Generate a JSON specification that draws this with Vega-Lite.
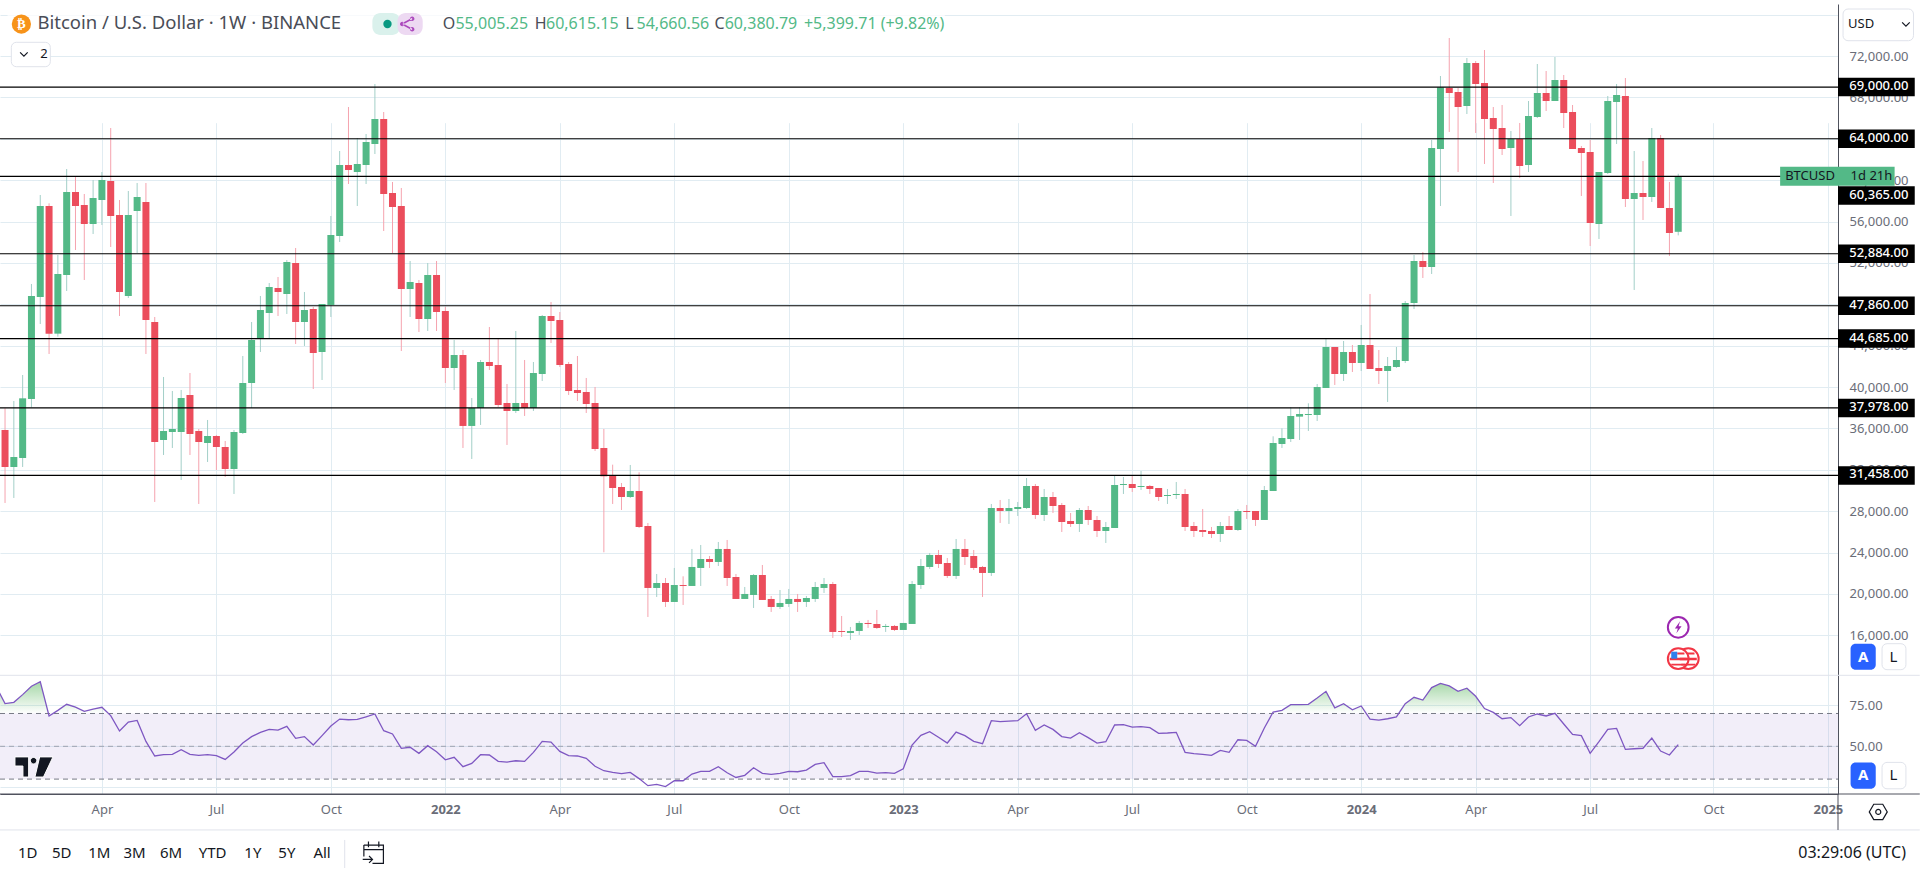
{"$schema":"https://vega.github.io/schema/vega-lite/v6.json","width":1838,"height":790,"padding":{"left":0,"top":4,"right":82,"bottom":79},"autosize":{"type":"none"},"background":"#ffffff",
"title":{"text":"Bitcoin / U.S. Dollar · 1W · BINANCE","anchor":"start","dx":38,"dy":28,"offset":0,"font":"Noto Sans","fontSize":18.5,"fontWeight":"normal","color":"#4a4d57"},
"config":{"view":{"stroke":null},"text":{"font":"Noto Sans"}},
"datasets":{
"candles":[
{"d":"2021-01-11","r":86.5},
{"d":"2021-01-18","o":35849,"h":37943,"l":28793,"c":32273,"r":76.0},
{"d":"2021-01-25","o":32273,"h":38652,"l":29276,"c":33239,"r":76.8},
{"d":"2021-02-01","o":33143,"h":41165,"l":32273,"c":38910,"r":81.5},
{"d":"2021-02-08","o":38846,"h":49962,"l":38040,"c":48802,"r":86.6},
{"d":"2021-02-15","o":48705,"h":58564,"l":46095,"c":57501,"r":89.4},
{"d":"2021-02-22","o":57501,"h":57759,"l":43195,"c":45161,"r":68.5},
{"d":"2021-03-01","o":45161,"h":52765,"l":44871,"c":50928,"r":71.9},
{"d":"2021-03-08","o":50831,"h":61077,"l":49285,"c":58854,"r":75.6},
{"d":"2021-03-15","o":58854,"h":60336,"l":53248,"c":57501,"r":73.9},
{"d":"2021-03-22","o":57598,"h":58661,"l":50348,"c":55761,"r":71.3},
{"d":"2021-03-29","o":55761,"h":60014,"l":54795,"c":58274,"r":72.7},
{"d":"2021-04-05","o":58081,"h":60787,"l":55665,"c":60014,"r":73.8},
{"d":"2021-04-12","o":59918,"h":65040,"l":53538,"c":56534,"r":68.7},
{"d":"2021-04-19","o":56631,"h":58081,"l":46868,"c":49188,"r":59.3},
{"d":"2021-04-26","o":48802,"h":58951,"l":48609,"c":56631,"r":64.8},
{"d":"2021-05-03","o":57018,"h":59725,"l":52958,"c":58371,"r":65.8},
{"d":"2021-05-10","o":57888,"h":59725,"l":43195,"c":46482,"r":53.0},
{"d":"2021-05-17","o":46288,"h":46771,"l":28889,"c":34689,"r":44.1},
{"d":"2021-05-24","o":34882,"h":40973,"l":33432,"c":35753,"r":44.9},
{"d":"2021-05-31","o":35656,"h":39619,"l":34109,"c":35946,"r":45.1},
{"d":"2021-06-07","o":35656,"h":39716,"l":31016,"c":38942,"r":47.9},
{"d":"2021-06-14","o":39232,"h":41358,"l":33432,"c":35463,"r":45.1},
{"d":"2021-06-21","o":35753,"h":35946,"l":28696,"c":34689,"r":44.5},
{"d":"2021-06-28","o":34592,"h":36816,"l":32756,"c":35270,"r":44.9},
{"d":"2021-07-05","o":35270,"h":35366,"l":31983,"c":34206,"r":44.3},
{"d":"2021-07-12","o":34206,"h":34786,"l":31306,"c":32079,"r":42.0},
{"d":"2021-07-19","o":32079,"h":35849,"l":29663,"c":35656,"r":46.5},
{"d":"2021-07-26","o":35559,"h":43002,"l":35462,"c":40392,"r":52.0},
{"d":"2021-08-02","o":40392,"h":46288,"l":37975,"c":44549,"r":55.9},
{"d":"2021-08-09","o":44741,"h":48802,"l":43389,"c":47448,"r":58.5},
{"d":"2021-08-16","o":47158,"h":50058,"l":44741,"c":49672,"r":60.3},
{"d":"2021-08-23","o":49575,"h":50638,"l":46868,"c":49188,"r":59.9},
{"d":"2021-08-30","o":48995,"h":52281,"l":47062,"c":52088,"r":62.2},
{"d":"2021-09-06","o":51991,"h":53441,"l":44162,"c":46288,"r":54.9},
{"d":"2021-09-13","o":46288,"h":49188,"l":43969,"c":47448,"r":55.9},
{"d":"2021-09-20","o":47545,"h":47738,"l":39812,"c":43292,"r":50.8},
{"d":"2021-09-27","o":43389,"h":48028,"l":40682,"c":48028,"r":56.5},
{"d":"2021-10-04","o":47932,"h":56534,"l":46771,"c":54698,"r":62.4},
{"d":"2021-10-11","o":54601,"h":62817,"l":54021,"c":61464,"r":66.6},
{"d":"2021-10-18","o":61464,"h":67070,"l":59628,"c":60981,"r":66.2},
{"d":"2021-10-25","o":60787,"h":64074,"l":57501,"c":61561,"r":66.4},
{"d":"2021-11-01","o":61464,"h":64461,"l":59628,"c":63687,"r":68.0},
{"d":"2021-11-08","o":63494,"h":69294,"l":62527,"c":65910,"r":69.7},
{"d":"2021-11-15","o":65910,"h":66587,"l":55085,"c":58661,"r":59.5},
{"d":"2021-11-22","o":58758,"h":59821,"l":52958,"c":57404,"r":57.5},
{"d":"2021-11-29","o":57501,"h":59241,"l":43485,"c":49478,"r":48.8},
{"d":"2021-12-06","o":49478,"h":52184,"l":46771,"c":50155,"r":49.4},
{"d":"2021-12-13","o":50058,"h":50348,"l":45322,"c":46579,"r":45.7},
{"d":"2021-12-20","o":46579,"h":51991,"l":45418,"c":50831,"r":50.4},
{"d":"2021-12-27","o":50831,"h":52184,"l":45418,"c":47255,"r":46.7},
{"d":"2022-01-03","o":47352,"h":47738,"l":40392,"c":41842,"r":41.8},
{"d":"2022-01-10","o":41842,"h":44549,"l":39716,"c":43099,"r":43.3},
{"d":"2022-01-17","o":43099,"h":43582,"l":34109,"c":36238,"r":37.6},
{"d":"2022-01-24","o":36238,"h":38942,"l":33046,"c":37975,"r":39.6},
{"d":"2022-01-31","o":37975,"h":42615,"l":36334,"c":42422,"r":44.9},
{"d":"2022-02-07","o":42422,"h":45805,"l":41649,"c":42035,"r":44.7},
{"d":"2022-02-14","o":42132,"h":44645,"l":38073,"c":38266,"r":40.8},
{"d":"2022-02-21","o":38459,"h":40295,"l":34399,"c":37686,"r":40.4},
{"d":"2022-02-28","o":37686,"h":45418,"l":37493,"c":38459,"r":41.2},
{"d":"2022-03-07","o":38459,"h":42615,"l":37203,"c":37975,"r":40.8},
{"d":"2022-03-14","o":37975,"h":42422,"l":37686,"c":41358,"r":46.3},
{"d":"2022-03-21","o":41262,"h":46965,"l":40585,"c":46868,"r":53.0},
{"d":"2022-03-28","o":46868,"h":48222,"l":44259,"c":46385,"r":52.6},
{"d":"2022-04-04","o":46482,"h":47255,"l":41939,"c":42132,"r":46.9},
{"d":"2022-04-11","o":42229,"h":42422,"l":39232,"c":39619,"r":44.3},
{"d":"2022-04-18","o":39716,"h":43002,"l":38652,"c":39426,"r":44.1},
{"d":"2022-04-25","o":39522,"h":40876,"l":37493,"c":38362,"r":42.7},
{"d":"2022-05-02","o":38459,"h":40006,"l":33819,"c":34012,"r":37.8},
{"d":"2022-05-09","o":34109,"h":35946,"l":24024,"c":31370,"r":35.1},
{"d":"2022-05-16","o":31435,"h":32498,"l":28696,"c":30243,"r":34.1},
{"d":"2022-05-23","o":30339,"h":30726,"l":28116,"c":29373,"r":33.3},
{"d":"2022-05-30","o":29373,"h":32466,"l":29276,"c":29953,"r":34.1},
{"d":"2022-06-06","o":29953,"h":31757,"l":26376,"c":26473,"r":30.3},
{"d":"2022-06-13","o":26570,"h":26860,"l":17773,"c":20577,"r":26.0},
{"d":"2022-06-20","o":20577,"h":21930,"l":19707,"c":21060,"r":26.8},
{"d":"2022-06-27","o":21060,"h":21543,"l":18740,"c":19224,"r":25.4},
{"d":"2022-07-04","o":19224,"h":22510,"l":19224,"c":20866,"r":29.0},
{"d":"2022-07-11","o":20866,"h":21704,"l":18934,"c":20770,"r":29.0},
{"d":"2022-07-18","o":20770,"h":24347,"l":20770,"c":22607,"r":33.1},
{"d":"2022-07-25","o":22510,"h":24733,"l":20770,"c":23380,"r":34.7},
{"d":"2022-08-01","o":23380,"h":23670,"l":22510,"c":23090,"r":34.7},
{"d":"2022-08-08","o":23090,"h":25023,"l":22703,"c":24347,"r":37.6},
{"d":"2022-08-15","o":24347,"h":25216,"l":20770,"c":21543,"r":33.9},
{"d":"2022-08-22","o":21640,"h":21930,"l":19514,"c":19514,"r":31.0},
{"d":"2022-08-29","o":19514,"h":20673,"l":19514,"c":19997,"r":32.3},
{"d":"2022-09-05","o":19900,"h":21930,"l":18643,"c":21833,"r":36.9},
{"d":"2022-09-12","o":21833,"h":22800,"l":19417,"c":19417,"r":33.5},
{"d":"2022-09-19","o":19514,"h":19803,"l":18257,"c":18740,"r":32.9},
{"d":"2022-09-26","o":18740,"h":20383,"l":18547,"c":19127,"r":33.5},
{"d":"2022-10-03","o":19030,"h":20480,"l":18740,"c":19514,"r":34.7},
{"d":"2022-10-10","o":19514,"h":19997,"l":18257,"c":19224,"r":34.5},
{"d":"2022-10-17","o":19224,"h":19803,"l":18740,"c":19610,"r":35.5},
{"d":"2022-10-24","o":19514,"h":21157,"l":19224,"c":20673,"r":39.0},
{"d":"2022-10-31","o":20577,"h":21543,"l":20093,"c":20963,"r":40.0},
{"d":"2022-11-07","o":20963,"h":21157,"l":15744,"c":16324,"r":31.5},
{"d":"2022-11-14","o":16420,"h":17870,"l":15840,"c":16324,"r":31.5},
{"d":"2022-11-21","o":16227,"h":16807,"l":15550,"c":16420,"r":32.1},
{"d":"2022-11-28","o":16420,"h":17387,"l":16034,"c":17194,"r":34.7},
{"d":"2022-12-05","o":17194,"h":17484,"l":16710,"c":17097,"r":34.7},
{"d":"2022-12-12","o":17097,"h":18450,"l":16614,"c":16710,"r":33.7},
{"d":"2022-12-19","o":16807,"h":17097,"l":16324,"c":16904,"r":33.9},
{"d":"2022-12-26","o":16904,"h":17000,"l":16420,"c":16517,"r":33.5},
{"d":"2023-01-02","o":16517,"h":17194,"l":16517,"c":17194,"r":36.3},
{"d":"2023-01-09","o":17097,"h":21253,"l":17097,"c":20963,"r":50.8},
{"d":"2023-01-16","o":20866,"h":23380,"l":20480,"c":22703,"r":56.7},
{"d":"2023-01-23","o":22607,"h":23960,"l":22413,"c":23767,"r":58.9},
{"d":"2023-01-30","o":23767,"h":24250,"l":22510,"c":22897,"r":55.5},
{"d":"2023-02-06","o":22993,"h":23476,"l":21543,"c":21737,"r":52.0},
{"d":"2023-02-13","o":21737,"h":25313,"l":21447,"c":24347,"r":58.7},
{"d":"2023-02-20","o":24347,"h":25313,"l":22800,"c":23573,"r":56.5},
{"d":"2023-02-27","o":23670,"h":24250,"l":22317,"c":22510,"r":53.0},
{"d":"2023-03-06","o":22607,"h":22703,"l":19707,"c":22027,"r":51.6},
{"d":"2023-03-13","o":22027,"h":28696,"l":21737,"c":28309,"r":65.6},
{"d":"2023-03-20","o":28309,"h":29083,"l":26860,"c":28020,"r":65.0},
{"d":"2023-03-27","o":28020,"h":29179,"l":26763,"c":28309,"r":65.4},
{"d":"2023-04-03","o":28213,"h":28889,"l":27536,"c":28406,"r":65.6},
{"d":"2023-04-10","o":28309,"h":31209,"l":28213,"c":30436,"r":69.9},
{"d":"2023-04-17","o":30436,"h":30629,"l":27246,"c":27633,"r":59.7},
{"d":"2023-04-24","o":27633,"h":30146,"l":27053,"c":29373,"r":63.0},
{"d":"2023-05-01","o":29373,"h":29856,"l":27826,"c":28503,"r":60.3},
{"d":"2023-05-08","o":28600,"h":28793,"l":25990,"c":26956,"r":55.9},
{"d":"2023-05-15","o":27053,"h":27826,"l":26473,"c":26763,"r":55.0},
{"d":"2023-05-22","o":26763,"h":28309,"l":25990,"c":28116,"r":58.3},
{"d":"2023-05-29","o":28116,"h":28503,"l":26666,"c":27150,"r":55.3},
{"d":"2023-06-05","o":27150,"h":27536,"l":25506,"c":26086,"r":52.0},
{"d":"2023-06-12","o":26086,"h":26956,"l":24926,"c":26473,"r":52.8},
{"d":"2023-06-19","o":26376,"h":31403,"l":26376,"c":30533,"r":63.0},
{"d":"2023-06-26","o":30533,"h":31306,"l":29663,"c":30629,"r":63.2},
{"d":"2023-07-03","o":30629,"h":31403,"l":29856,"c":30243,"r":61.7},
{"d":"2023-07-10","o":30339,"h":31886,"l":30049,"c":30436,"r":62.0},
{"d":"2023-07-17","o":30436,"h":30533,"l":29663,"c":30146,"r":61.4},
{"d":"2023-07-24","o":30243,"h":30243,"l":28986,"c":29373,"r":57.9},
{"d":"2023-07-31","o":29469,"h":30146,"l":28696,"c":29566,"r":58.1},
{"d":"2023-08-07","o":29566,"h":30823,"l":29179,"c":29663,"r":58.5},
{"d":"2023-08-14","o":29663,"h":30146,"l":26086,"c":26473,"r":46.3},
{"d":"2023-08-21","o":26570,"h":26956,"l":25506,"c":26086,"r":45.5},
{"d":"2023-08-28","o":26183,"h":28213,"l":25506,"c":25990,"r":45.1},
{"d":"2023-09-04","o":26086,"h":26473,"l":25410,"c":25796,"r":44.5},
{"d":"2023-09-11","o":25796,"h":26956,"l":25023,"c":26570,"r":47.5},
{"d":"2023-09-18","o":26570,"h":27536,"l":26183,"c":26183,"r":46.3},
{"d":"2023-09-25","o":26183,"h":28213,"l":26086,"c":28020,"r":54.0},
{"d":"2023-10-02","o":28020,"h":28600,"l":27246,"c":27923,"r":53.6},
{"d":"2023-10-09","o":28020,"h":28020,"l":26570,"c":27150,"r":50.0},
{"d":"2023-10-16","o":27150,"h":30436,"l":27150,"c":30049,"r":61.2},
{"d":"2023-10-23","o":29953,"h":35237,"l":29953,"c":34592,"r":70.9},
{"d":"2023-10-30","o":34496,"h":36010,"l":34109,"c":35076,"r":71.9},
{"d":"2023-11-06","o":34979,"h":38040,"l":34689,"c":37203,"r":75.4},
{"d":"2023-11-13","o":37138,"h":38040,"l":34883,"c":37396,"r":75.4},
{"d":"2023-11-20","o":37299,"h":38427,"l":35753,"c":37396,"r":75.6},
{"d":"2023-11-27","o":37299,"h":40295,"l":36720,"c":40006,"r":79.4},
{"d":"2023-12-04","o":39909,"h":44645,"l":39909,"c":43872,"r":83.5},
{"d":"2023-12-11","o":43872,"h":43872,"l":40199,"c":41262,"r":73.4},
{"d":"2023-12-18","o":41262,"h":44452,"l":40585,"c":43389,"r":76.0},
{"d":"2023-12-25","o":43389,"h":44065,"l":41455,"c":42326,"r":72.3},
{"d":"2024-01-01","o":42326,"h":45999,"l":41552,"c":44065,"r":74.6},
{"d":"2024-01-08","o":44065,"h":48995,"l":41745,"c":41745,"r":66.6},
{"d":"2024-01-15","o":41842,"h":43582,"l":40295,"c":41552,"r":66.0},
{"d":"2024-01-22","o":41552,"h":42905,"l":38555,"c":42035,"r":66.8},
{"d":"2024-01-29","o":41939,"h":43872,"l":41842,"c":42615,"r":67.9},
{"d":"2024-02-05","o":42519,"h":48318,"l":42326,"c":48125,"r":76.0},
{"d":"2024-02-12","o":48125,"h":52765,"l":47545,"c":52184,"r":79.9},
{"d":"2024-02-19","o":52184,"h":53055,"l":50541,"c":51605,"r":78.2},
{"d":"2024-02-26","o":51605,"h":63880,"l":50928,"c":63107,"r":85.8},
{"d":"2024-03-04","o":63011,"h":70067,"l":57501,"c":68971,"r":88.4},
{"d":"2024-03-11","o":68907,"h":73740,"l":64654,"c":68424,"r":86.8},
{"d":"2024-03-18","o":68520,"h":68907,"l":60787,"c":67070,"r":83.5},
{"d":"2024-03-25","o":67167,"h":71807,"l":66394,"c":71323,"r":85.4},
{"d":"2024-04-01","o":71323,"h":71517,"l":64557,"c":69294,"r":80.5},
{"d":"2024-04-08","o":69390,"h":72580,"l":61561,"c":65910,"r":73.0},
{"d":"2024-04-15","o":66007,"h":67070,"l":59725,"c":64944,"r":70.7},
{"d":"2024-04-22","o":65040,"h":67264,"l":62431,"c":63011,"r":66.8},
{"d":"2024-04-29","o":63107,"h":64751,"l":56534,"c":63977,"r":67.5},
{"d":"2024-05-06","o":63977,"h":65524,"l":60207,"c":61367,"r":62.6},
{"d":"2024-05-13","o":61464,"h":67650,"l":60787,"c":66201,"r":67.9},
{"d":"2024-05-20","o":66104,"h":71227,"l":66007,"c":68424,"r":69.7},
{"d":"2024-05-27","o":68424,"h":70550,"l":66684,"c":67650,"r":68.5},
{"d":"2024-06-03","o":67650,"h":71903,"l":67650,"c":69680,"r":70.1},
{"d":"2024-06-10","o":69680,"h":70164,"l":65040,"c":66491,"r":63.6},
{"d":"2024-06-17","o":66587,"h":67264,"l":63011,"c":63011,"r":57.3},
{"d":"2024-06-24","o":63107,"h":63301,"l":58468,"c":62624,"r":56.5},
{"d":"2024-07-01","o":62720,"h":63880,"l":53634,"c":55858,"r":45.7},
{"d":"2024-07-08","o":55761,"h":60787,"l":54311,"c":60787,"r":52.8},
{"d":"2024-07-15","o":60691,"h":68134,"l":60594,"c":67650,"r":60.3},
{"d":"2024-07-22","o":67554,"h":69294,"l":63494,"c":68230,"r":60.9},
{"d":"2024-07-29","o":68134,"h":69873,"l":57404,"c":58178,"r":48.1},
{"d":"2024-08-05","o":58178,"h":62817,"l":49382,"c":58758,"r":48.5},
{"d":"2024-08-12","o":58758,"h":61851,"l":56148,"c":58371,"r":48.8},
{"d":"2024-08-19","o":58371,"h":65040,"l":57888,"c":64074,"r":55.0},
{"d":"2024-08-26","o":64074,"h":64364,"l":57308,"c":57308,"r":47.1},
{"d":"2024-09-02","o":57308,"h":59821,"l":52668,"c":54891,"r":44.7},
{"d":"2024-09-09","o":55005.25,"h":60615.15,"l":54660.56,"c":60380.79,"r":51.0}
],
"over":[
{"d":"2021-01-11","ob":86.5},{"d":"2021-01-18","ob":76.0},{"d":"2021-01-25","ob":76.8},{"d":"2021-02-01","ob":81.5},{"d":"2021-02-08","ob":86.6},{"d":"2021-02-15","ob":89.4},{"d":"2021-02-22","ob":70},{"d":"2021-03-01","ob":71.9},{"d":"2021-03-08","ob":75.6},{"d":"2021-03-15","ob":73.9},{"d":"2021-03-22","ob":71.3},{"d":"2021-03-29","ob":72.7},{"d":"2021-04-05","ob":73.8},{"d":"2021-04-12","ob":70},
{"d":"2023-10-16","ob":70},{"d":"2023-10-23","ob":70.9},{"d":"2023-10-30","ob":71.9},{"d":"2023-11-06","ob":75.4},{"d":"2023-11-13","ob":75.4},{"d":"2023-11-20","ob":75.6},{"d":"2023-11-27","ob":79.4},{"d":"2023-12-04","ob":83.5},{"d":"2023-12-11","ob":73.4},{"d":"2023-12-18","ob":76.0},{"d":"2023-12-25","ob":72.3},{"d":"2024-01-01","ob":74.6},{"d":"2024-01-08","ob":70},{"d":"2024-01-15","ob":70},{"d":"2024-01-22","ob":70},{"d":"2024-01-29","ob":70},{"d":"2024-02-05","ob":76.0},{"d":"2024-02-12","ob":79.9},{"d":"2024-02-19","ob":78.2},{"d":"2024-02-26","ob":85.8},{"d":"2024-03-04","ob":88.4},{"d":"2024-03-11","ob":86.8},{"d":"2024-03-18","ob":83.5},{"d":"2024-03-25","ob":85.4},{"d":"2024-04-01","ob":80.5},{"d":"2024-04-08","ob":73.0},{"d":"2024-04-15","ob":70.7},{"d":"2024-04-22","ob":70}
],
"levels":[{"d":"2021-01-14","d2":"2025-01-14","p":69000},{"d":"2021-01-14","d2":"2025-01-14","p":64000},{"d":"2021-01-14","d2":"2025-01-14","p":60365},{"d":"2021-01-14","d2":"2025-01-14","p":52884},{"d":"2021-01-14","d2":"2025-01-14","p":47860},{"d":"2021-01-14","d2":"2025-01-14","p":44685},{"d":"2021-01-14","d2":"2025-01-14","p":37978},{"d":"2021-01-14","d2":"2025-01-14","p":31458}],
"tags":[{"d":"2025-01-14","d2":"2025-03-16","p":69000},{"d":"2025-01-14","d2":"2025-03-16","p":64000},{"d":"2025-01-14","d2":"2025-03-16","p":58515},{"d":"2025-01-14","d2":"2025-03-16","p":52884},{"d":"2025-01-14","d2":"2025-03-16","p":47860},{"d":"2025-01-14","d2":"2025-03-16","p":44685},{"d":"2025-01-14","d2":"2025-03-16","p":37978},{"d":"2025-01-14","d2":"2025-03-16","p":31458}],
"tagText":[{"d":"2025-01-23","p":69000,"t":"69,000.00"},{"d":"2025-01-23","p":64000,"t":"64,000.00"},{"d":"2025-01-23","p":58515,"t":"60,365.00"},{"d":"2025-01-23","p":52884,"t":"52,884.00"},{"d":"2025-01-23","p":47860,"t":"47,860.00"},{"d":"2025-01-23","p":44685,"t":"44,685.00"},{"d":"2025-01-23","p":37978,"t":"37,978.00"},{"d":"2025-01-23","p":31458,"t":"31,458.00"}],
"counter":[{"d":"2024-11-29","d2":"2025-02-28","p":60365}],
"counterText":[{"d":"2024-12-03","p":60365,"t":"BTCUSD"},{"d":"2025-01-24","p":60365,"t":"1d 21h"}],
"headBox":[{"d":"2021-01-20","d2":"2023-02-04","p":76157,"p2":74030}],
"pillTeal":[{"d":"2021-11-06","d2":"2021-11-28","p":76157,"p2":74030}],
"pillPurple":[{"d":"2021-11-26","d2":"2021-12-16","p":76157,"p2":74030}],
"whiteBoxes":[{"d":"2025-01-18","d2":"2025-03-15","p":76543,"p2":73479},{"d":"2021-01-23","d2":"2021-02-23","p":73324,"p2":70966},{"d":"2025-02-18","d2":"2025-03-09","p":15190,"p2":12677}],
"blueBoxes":[{"d":"2025-01-24","d2":"2025-02-13","p":15190,"p2":12677}],
"letters":[{"d":"2022-01-01","p":75093,"t":"O"},{"d":"2022-03-15","p":75093,"t":"H"},{"d":"2022-05-26","p":75093,"t":"L"},{"d":"2022-08-05","p":75093,"t":"C"}],
"values":[{"d":"2022-01-11","p":75093,"t":"55,005.25"},{"d":"2022-03-24","p":75093,"t":"60,615.15"},{"d":"2022-06-04","p":75093,"t":"54,660.56"},{"d":"2022-08-13","p":75093,"t":"60,380.79"},{"d":"2022-10-15","p":75093,"t":"+5,399.71"},{"d":"2022-12-15","p":75093,"t":"(+9.82%)"}],
"darkText":[{"d":"2025-01-22","p":75093,"t":"USD"},{"d":"2021-02-15","p":72193,"t":"2"}],
"btc":[{"d":"2021-01-31","p":75093,"t":"₿"}],
"chev":[{"d":"2025-03-09","p":75093},{"d":"2021-02-02","p":72193}],
"tealDot":[{"d":"2021-11-18","p":75093}],
"share":[{"d":"2021-12-04","p":75093}],
"aLabel":[{"d":"2025-02-03","p":13933,"t":"A"}],
"lLabel":[{"d":"2025-02-27","p":13933,"t":"L"}],
"bolt":[{"d":"2024-09-09","p":16775}],
"coins":[{"d":"2024-09-17","p":13740},{"d":"2024-09-09","p":13740}],
"coinFront":[{"d":"2024-09-09","p":13740}],
"band":[{"d":"2021-01-14","d2":"2025-01-14","r":70,"r2":30}],
"dash":[{"d":"2021-01-14","d2":"2025-01-14","r":70},{"d":"2021-01-14","d2":"2025-01-14","r":30}],
"mid":[{"d":"2021-01-14","d2":"2025-01-14","r":50}],
"sep":[{"d":"2021-01-14","d2":"2025-03-20","r":93.29},{"d":"2021-01-14","d2":"2025-03-20","r":-1}],
"axisLine":[{"d":"2021-01-14","d2":"2025-03-20","r":20.92}],
"axisDown":[{"d":"2025-01-14","r":20.92,"r2":-1}],
"toolSep":[{"d":"2021-10-15","r":-7.1,"r2":-24.2}],
"toolbar":[{"d":"2021-02-05","r":-15.1,"t":"1D"},{"d":"2021-03-04","r":-15.1,"t":"5D"},{"d":"2021-04-03","r":-15.1,"t":"1M"},{"d":"2021-05-01","r":-15.1,"t":"3M"},{"d":"2021-05-30","r":-15.1,"t":"6M"},{"d":"2021-07-02","r":-15.1,"t":"YTD"},{"d":"2021-08-03","r":-15.1,"t":"1Y"},{"d":"2021-08-30","r":-15.1,"t":"5Y"},{"d":"2021-09-27","r":-15.1,"t":"All"}],
"clock":[{"d":"2025-03-09","r":-15.1,"t":"03:29:06 (UTC)"}],
"calendar":[{"d":"2021-11-07","r":-15.1}],
"gear":[{"d":"2025-02-15","r":10}],
"logo":[{"d":"2021-02-10","r":37.4}],
"whiteR":[{"d":"2025-02-18","d2":"2025-03-09","r":40.2,"r2":24.1}],
"blueR":[{"d":"2025-01-24","d2":"2025-02-13","r":40.2,"r2":24.1}],
"aR":[{"d":"2025-02-03","r":32.2,"t":"A"}],
"lR":[{"d":"2025-02-27","r":32.2,"t":"L"}]
},
"encoding":{"x":{"field":"d","type":"temporal","title":null,"scale":{"type":"utc","nice":false,"padding":0,"domain":[{"year":2021,"month":1,"date":14,"utc":true},{"year":2025,"month":1,"date":14,"utc":true}]},
"axis":{"orient":"bottom","grid":true,"gridColor":"#e1ecf2","gridWidth":1,"ticks":false,"domain":true,"domainColor":"#50535e","labelFont":"Noto Sans","labelFontSize":13,"labelColor":"#6a6d78","labelPadding":9,"labelOverlap":false,"labelFlush":false,"labelBound":false,"labelExpr":"utcmonth(datum.value)==0?utcFormat(datum.value,'%Y'):utcFormat(datum.value,'%b')","labelFontWeight":{"condition":{"test":"utcmonth(datum.value)==0","value":"bold"},"value":"normal"},
"values":[{"year":2021,"month":4,"date":5,"utc":true},{"year":2021,"month":7,"date":5,"utc":true},{"year":2021,"month":10,"date":4,"utc":true},{"year":2022,"month":1,"date":3,"utc":true},{"year":2022,"month":4,"date":4,"utc":true},{"year":2022,"month":7,"date":4,"utc":true},{"year":2022,"month":10,"date":3,"utc":true},{"year":2023,"month":1,"date":2,"utc":true},{"year":2023,"month":4,"date":3,"utc":true},{"year":2023,"month":7,"date":3,"utc":true},{"year":2023,"month":10,"date":2,"utc":true},{"year":2024,"month":1,"date":1,"utc":true},{"year":2024,"month":4,"date":1,"utc":true},{"year":2024,"month":7,"date":1,"utc":true},{"year":2024,"month":10,"date":7,"utc":true},{"year":2025,"month":1,"date":6,"utc":true}]}}},
"resolve":{"scale":{"y":"independent"},"axis":{"y":"independent"}},
"layer":[
{"layer":[
{"data":{"name":"candles"},"mark":{"type":"rule","strokeWidth":1},"encoding":{"y":{"field":"l","type":"quantitative","title":null,"scale":{"domain":[12135,77027],"range":[671.3,0],"nice":false,"zero":false},"axis":{"orient":"right","grid":true,"gridColor":"#e1ecf2","ticks":false,"domain":true,"domainColor":"#50535e","labelFont":"Noto Sans","labelFontSize":13,"labelColor":"#6a6d78","labelPadding":11,"labelOverlap":false,"labelFlush":false,"labelBound":false,"format":",.2f","values":[16000,20000,24000,28000,32000,36000,40000,44000,48000,52000,56000,60000,64000,68000,72000,76000]}},"y2":{"field":"h"},"color":{"condition":{"test":"datum.c>=datum.o","value":"#a3cfc8"},"value":"#f5a3ae"}}},
{"data":{"name":"candles"},"mark":{"type":"bar","width":7},"encoding":{"y":{"field":"o","type":"quantitative","title":null,"scale":{"domain":[12135,77027],"range":[671.3,0],"nice":false,"zero":false}},"y2":{"field":"c"},"color":{"condition":{"test":"datum.c>=datum.o","value":"#53b987"},"value":"#eb4d5c"}}},
{"data":{"name":"levels"},"mark":{"type":"rule","color":"#000000","strokeWidth":1.2},"encoding":{"x2":{"field":"d2"},"y":{"field":"p","type":"quantitative","title":null,"scale":{"domain":[12135,77027],"range":[671.3,0],"nice":false,"zero":false}}}},
{"data":{"name":"counter"},"mark":{"type":"rule","color":"#53b987","strokeWidth":19},"encoding":{"x2":{"field":"d2"},"y":{"field":"p","type":"quantitative","title":null,"scale":{"domain":[12135,77027],"range":[671.3,0],"nice":false,"zero":false}}}},
{"data":{"name":"counterText"},"mark":{"type":"text","align":"left","baseline":"middle","color":"#131722","fontSize":13},"encoding":{"text":{"field":"t"},"y":{"field":"p","type":"quantitative","title":null,"scale":{"domain":[12135,77027],"range":[671.3,0],"nice":false,"zero":false}}}},
{"data":{"name":"tags"},"mark":{"type":"rule","color":"#000000","strokeWidth":18.5},"encoding":{"x2":{"field":"d2"},"y":{"field":"p","type":"quantitative","title":null,"scale":{"domain":[12135,77027],"range":[671.3,0],"nice":false,"zero":false}}}},
{"data":{"name":"tagText"},"mark":{"type":"text","align":"left","baseline":"middle","color":"#ffffff","fontSize":13,"fontWeight":500,"dy":-1},"encoding":{"text":{"field":"t"},"y":{"field":"p","type":"quantitative","title":null,"scale":{"domain":[12135,77027],"range":[671.3,0],"nice":false,"zero":false}}}},
{"data":{"name":"headBox"},"mark":{"type":"rect","color":"#ffffff","opacity":0.75},"encoding":{"x2":{"field":"d2"},"y":{"field":"p","type":"quantitative","title":null,"scale":{"domain":[12135,77027],"range":[671.3,0],"nice":false,"zero":false}},"y2":{"field":"p2"}}},
{"data":{"name":"whiteBoxes"},"mark":{"type":"rect","fill":"#ffffff","stroke":"#e0e3eb","strokeWidth":1,"cornerRadius":5},"encoding":{"x2":{"field":"d2"},"y":{"field":"p","type":"quantitative","title":null,"scale":{"domain":[12135,77027],"range":[671.3,0],"nice":false,"zero":false}},"y2":{"field":"p2"}}},
{"data":{"name":"blueBoxes"},"mark":{"type":"rect","color":"#2962ff","cornerRadius":5},"encoding":{"x2":{"field":"d2"},"y":{"field":"p","type":"quantitative","title":null,"scale":{"domain":[12135,77027],"range":[671.3,0],"nice":false,"zero":false}},"y2":{"field":"p2"}}},
{"data":{"name":"pillTeal"},"mark":{"type":"rect","color":"#daf1ec","cornerRadius":8},"encoding":{"x2":{"field":"d2"},"y":{"field":"p","type":"quantitative","title":null,"scale":{"domain":[12135,77027],"range":[671.3,0],"nice":false,"zero":false}},"y2":{"field":"p2"}}},
{"data":{"name":"pillPurple"},"mark":{"type":"rect","color":"#edd9f2","cornerRadius":8},"encoding":{"x2":{"field":"d2"},"y":{"field":"p","type":"quantitative","title":null,"scale":{"domain":[12135,77027],"range":[671.3,0],"nice":false,"zero":false}},"y2":{"field":"p2"}}},
{"data":{"name":"tealDot"},"mark":{"type":"point","shape":"circle","filled":true,"opacity":1,"color":"#089981","size":70},"encoding":{"y":{"field":"p","type":"quantitative","title":null,"scale":{"domain":[12135,77027],"range":[671.3,0],"nice":false,"zero":false}}}},
{"data":{"name":"share"},"mark":{"type":"point","filled":true,"opacity":1,"color":"#ab47bc","size":230,"shape":"M0.3,-0.7a0.3,0.3 0 1,0 0.6,0a0.3,0.3 0 1,0 -0.6,0ZM0.3,0.7a0.3,0.3 0 1,0 0.6,0a0.3,0.3 0 1,0 -0.6,0ZM-1,0a0.3,0.3 0 1,0 0.6,0a0.3,0.3 0 1,0 -0.6,0ZM-0.7,-0.12L0.6,-0.82L0.6,-0.58L-0.7,0.12ZM-0.7,-0.12L0.6,0.58L0.6,0.82L-0.7,0.12Z"},"encoding":{"y":{"field":"p","type":"quantitative","title":null,"scale":{"domain":[12135,77027],"range":[671.3,0],"nice":false,"zero":false}}}},
{"data":{"name":"btc"},"mark":{"type":"point","shape":"circle","filled":true,"opacity":1,"color":"#f7931a","size":370},"encoding":{"y":{"field":"p","type":"quantitative","title":null,"scale":{"domain":[12135,77027],"range":[671.3,0],"nice":false,"zero":false}}}},
{"data":{"name":"btc"},"mark":{"type":"text","align":"center","baseline":"middle","color":"#ffffff","font":"DejaVu Sans","fontWeight":"bold","fontSize":13},"encoding":{"text":{"field":"t"},"y":{"field":"p","type":"quantitative","title":null,"scale":{"domain":[12135,77027],"range":[671.3,0],"nice":false,"zero":false}}}},
{"data":{"name":"letters"},"mark":{"type":"text","align":"left","baseline":"middle","color":"#4a4d57","fontSize":16},"encoding":{"text":{"field":"t"},"y":{"field":"p","type":"quantitative","title":null,"scale":{"domain":[12135,77027],"range":[671.3,0],"nice":false,"zero":false}}}},
{"data":{"name":"values"},"mark":{"type":"text","align":"left","baseline":"middle","color":"#53b987","fontSize":16},"encoding":{"text":{"field":"t"},"y":{"field":"p","type":"quantitative","title":null,"scale":{"domain":[12135,77027],"range":[671.3,0],"nice":false,"zero":false}}}},
{"data":{"name":"darkText"},"mark":{"type":"text","align":"left","baseline":"middle","color":"#131722","fontSize":13},"encoding":{"text":{"field":"t"},"y":{"field":"p","type":"quantitative","title":null,"scale":{"domain":[12135,77027],"range":[671.3,0],"nice":false,"zero":false}}}},
{"data":{"name":"chev"},"mark":{"type":"point","filled":false,"opacity":1,"color":"#131722","strokeWidth":1.2,"size":90,"shape":"M-0.8,-0.35L0,0.45L0.8,-0.35"},"encoding":{"y":{"field":"p","type":"quantitative","title":null,"scale":{"domain":[12135,77027],"range":[671.3,0],"nice":false,"zero":false}}}},
{"data":{"name":"aLabel"},"mark":{"type":"text","align":"center","baseline":"middle","color":"#ffffff","fontSize":15,"fontWeight":"bold"},"encoding":{"text":{"field":"t"},"y":{"field":"p","type":"quantitative","title":null,"scale":{"domain":[12135,77027],"range":[671.3,0],"nice":false,"zero":false}}}},
{"data":{"name":"lLabel"},"mark":{"type":"text","align":"center","baseline":"middle","color":"#131722","fontSize":15},"encoding":{"text":{"field":"t"},"y":{"field":"p","type":"quantitative","title":null,"scale":{"domain":[12135,77027],"range":[671.3,0],"nice":false,"zero":false}}}},
{"data":{"name":"bolt"},"mark":{"type":"point","shape":"circle","filled":true,"opacity":1,"fill":"#ffffff","stroke":"#9c27b0","strokeWidth":2,"size":430},"encoding":{"y":{"field":"p","type":"quantitative","title":null,"scale":{"domain":[12135,77027],"range":[671.3,0],"nice":false,"zero":false}}}},
{"data":{"name":"bolt"},"mark":{"type":"point","filled":true,"opacity":1,"color":"#9c27b0","size":220,"shape":"M0.25,-0.8L-0.45,0.15H-0.05L-0.25,0.8L0.45,-0.15H0.05Z"},"encoding":{"y":{"field":"p","type":"quantitative","title":null,"scale":{"domain":[12135,77027],"range":[671.3,0],"nice":false,"zero":false}}}},
{"data":{"name":"coins"},"mark":{"type":"point","shape":"circle","filled":true,"opacity":1,"fill":"#ffffff","stroke":"#f23645","strokeWidth":2,"size":430},"encoding":{"y":{"field":"p","type":"quantitative","title":null,"scale":{"domain":[12135,77027],"range":[671.3,0],"nice":false,"zero":false}}}},
{"data":{"name":"coins"},"mark":{"type":"point","filled":true,"opacity":1,"color":"#f23645","size":400,"shape":"M-0.1,-0.62H0.62V-0.42H-0.1ZM-0.85,-0.1H0.85V0.15H-0.85ZM-0.7,0.5H0.7V0.68H-0.7Z"},"encoding":{"y":{"field":"p","type":"quantitative","title":null,"scale":{"domain":[12135,77027],"range":[671.3,0],"nice":false,"zero":false}}}},
{"data":{"name":"coinFront"},"mark":{"type":"point","filled":true,"opacity":1,"color":"#2f80ed","size":400,"shape":"M-0.7,-0.7H-0.1V0H-0.7Z"},"encoding":{"y":{"field":"p","type":"quantitative","title":null,"scale":{"domain":[12135,77027],"range":[671.3,0],"nice":false,"zero":false}}}}
]},
{"layer":[
{"data":{"name":"band"},"mark":{"type":"rect","color":"#7e57c2","opacity":0.1},"encoding":{"x2":{"field":"d2"},"y":{"field":"r","type":"quantitative","title":null,"scale":{"domain":[20.92,93.29],"range":[790,671.3],"nice":false,"zero":false},"axis":{"orient":"right","grid":true,"gridColor":"#e1ecf2","ticks":false,"domain":true,"domainColor":"#50535e","labelFont":"Noto Sans","labelFontSize":13,"labelColor":"#6a6d78","labelPadding":11,"labelOverlap":false,"labelFlush":false,"labelBound":false,"labelExpr":"datum.value==25?'':format(datum.value,'.2f')","values":[25,50,75]}},"y2":{"field":"r2"}}},
{"data":{"name":"dash"},"mark":{"type":"rule","color":"#787b86","strokeWidth":1,"strokeDash":[5,4]},"encoding":{"x2":{"field":"d2"},"y":{"field":"r","type":"quantitative","title":null,"scale":{"domain":[20.92,93.29],"range":[790,671.3],"nice":false,"zero":false}}}},
{"data":{"name":"mid"},"mark":{"type":"rule","color":"#787b86","strokeWidth":1,"opacity":0.6,"strokeDash":[5,4]},"encoding":{"x2":{"field":"d2"},"y":{"field":"r","type":"quantitative","title":null,"scale":{"domain":[20.92,93.29],"range":[790,671.3],"nice":false,"zero":false}}}},
{"data":{"name":"over"},"mark":{"type":"area","color":{"x1":0,"y1":0,"x2":0,"y2":1,"gradient":"linear","stops":[{"offset":0,"color":"rgba(76,175,80,0.5)"},{"offset":1,"color":"rgba(76,175,80,0)"}]},"clip":true},"encoding":{"y":{"field":"ob","type":"quantitative","title":null,"scale":{"domain":[20.92,93.29],"range":[790,671.3],"nice":false,"zero":false}},"y2":{"datum":70}}},
{"data":{"name":"candles"},"mark":{"type":"line","color":"#7e57c2","strokeWidth":1.3,"clip":true},"encoding":{"y":{"field":"r","type":"quantitative","title":null,"scale":{"domain":[20.92,93.29],"range":[790,671.3],"nice":false,"zero":false}}}},
{"data":{"name":"sep"},"mark":{"type":"rule","color":"#e0e3eb","strokeWidth":1},"encoding":{"x2":{"field":"d2"},"y":{"field":"r","type":"quantitative","title":null,"scale":{"domain":[20.92,93.29],"range":[790,671.3],"nice":false,"zero":false}}}},
{"data":{"name":"axisLine"},"mark":{"type":"rule","color":"#50535e","strokeWidth":1},"encoding":{"x2":{"field":"d2"},"y":{"field":"r","type":"quantitative","title":null,"scale":{"domain":[20.92,93.29],"range":[790,671.3],"nice":false,"zero":false}}}},
{"data":{"name":"axisDown"},"mark":{"type":"rule","color":"#50535e","strokeWidth":1},"encoding":{"y":{"field":"r","type":"quantitative","title":null,"scale":{"domain":[20.92,93.29],"range":[790,671.3],"nice":false,"zero":false}},"y2":{"field":"r2"}}},
{"data":{"name":"toolSep"},"mark":{"type":"rule","color":"#e0e3eb","strokeWidth":1},"encoding":{"y":{"field":"r","type":"quantitative","title":null,"scale":{"domain":[20.92,93.29],"range":[790,671.3],"nice":false,"zero":false}},"y2":{"field":"r2"}}},
{"data":{"name":"toolbar"},"mark":{"type":"text","align":"center","baseline":"middle","color":"#131722","fontSize":15},"encoding":{"text":{"field":"t"},"y":{"field":"r","type":"quantitative","title":null,"scale":{"domain":[20.92,93.29],"range":[790,671.3],"nice":false,"zero":false}}}},
{"data":{"name":"clock"},"mark":{"type":"text","align":"right","baseline":"middle","color":"#131722","fontSize":16},"encoding":{"text":{"field":"t"},"y":{"field":"r","type":"quantitative","title":null,"scale":{"domain":[20.92,93.29],"range":[790,671.3],"nice":false,"zero":false}}}},
{"data":{"name":"calendar"},"mark":{"type":"point","filled":false,"opacity":1,"color":"#131722","strokeWidth":1.2,"size":529,"shape":"M-0.85,-0.7H0.85V0.9H-0.1M-0.85,0.3V-0.7M-0.85,-0.3H0.85M-0.45,-1V-0.5M0.45,-1V-0.5M-0.95,0.55H-0.1M-0.4,0.25L-0.1,0.55L-0.4,0.85"},"encoding":{"y":{"field":"r","type":"quantitative","title":null,"scale":{"domain":[20.92,93.29],"range":[790,671.3],"nice":false,"zero":false}}}},
{"data":{"name":"gear"},"mark":{"type":"point","filled":false,"opacity":1,"color":"#131722","strokeWidth":1.2,"size":324,"shape":"M-0.5,-0.85H0.5L1,0L0.5,0.85H-0.5L-1,0ZM-0.28,0a0.28,0.28 0 1,0 0.56,0a0.28,0.28 0 1,0 -0.56,0"},"encoding":{"y":{"field":"r","type":"quantitative","title":null,"scale":{"domain":[20.92,93.29],"range":[790,671.3],"nice":false,"zero":false}}}},
{"data":{"name":"logo"},"mark":{"type":"point","filled":true,"opacity":1,"fill":"#131722","stroke":"#ffffff","strokeWidth":1,"size":1444,"shape":"M-1,-0.53H-0.28V0.53H-0.58V-0.05H-1ZM-0.19,-0.33a0.17,0.17 0 1,0 0.34,0a0.17,0.17 0 1,0 -0.34,0ZM0.3,-0.53H1L0.5,0.53H0.05Z"},"encoding":{"y":{"field":"r","type":"quantitative","title":null,"scale":{"domain":[20.92,93.29],"range":[790,671.3],"nice":false,"zero":false}}}},
{"data":{"name":"whiteR"},"mark":{"type":"rect","fill":"#ffffff","stroke":"#e0e3eb","strokeWidth":1,"cornerRadius":5},"encoding":{"x2":{"field":"d2"},"y":{"field":"r","type":"quantitative","title":null,"scale":{"domain":[20.92,93.29],"range":[790,671.3],"nice":false,"zero":false}},"y2":{"field":"r2"}}},
{"data":{"name":"blueR"},"mark":{"type":"rect","color":"#2962ff","cornerRadius":5},"encoding":{"x2":{"field":"d2"},"y":{"field":"r","type":"quantitative","title":null,"scale":{"domain":[20.92,93.29],"range":[790,671.3],"nice":false,"zero":false}},"y2":{"field":"r2"}}},
{"data":{"name":"aR"},"mark":{"type":"text","align":"center","baseline":"middle","color":"#ffffff","fontSize":15,"fontWeight":"bold"},"encoding":{"text":{"field":"t"},"y":{"field":"r","type":"quantitative","title":null,"scale":{"domain":[20.92,93.29],"range":[790,671.3],"nice":false,"zero":false}}}},
{"data":{"name":"lR"},"mark":{"type":"text","align":"center","baseline":"middle","color":"#131722","fontSize":15},"encoding":{"text":{"field":"t"},"y":{"field":"r","type":"quantitative","title":null,"scale":{"domain":[20.92,93.29],"range":[790,671.3],"nice":false,"zero":false}}}}
]}
]}
